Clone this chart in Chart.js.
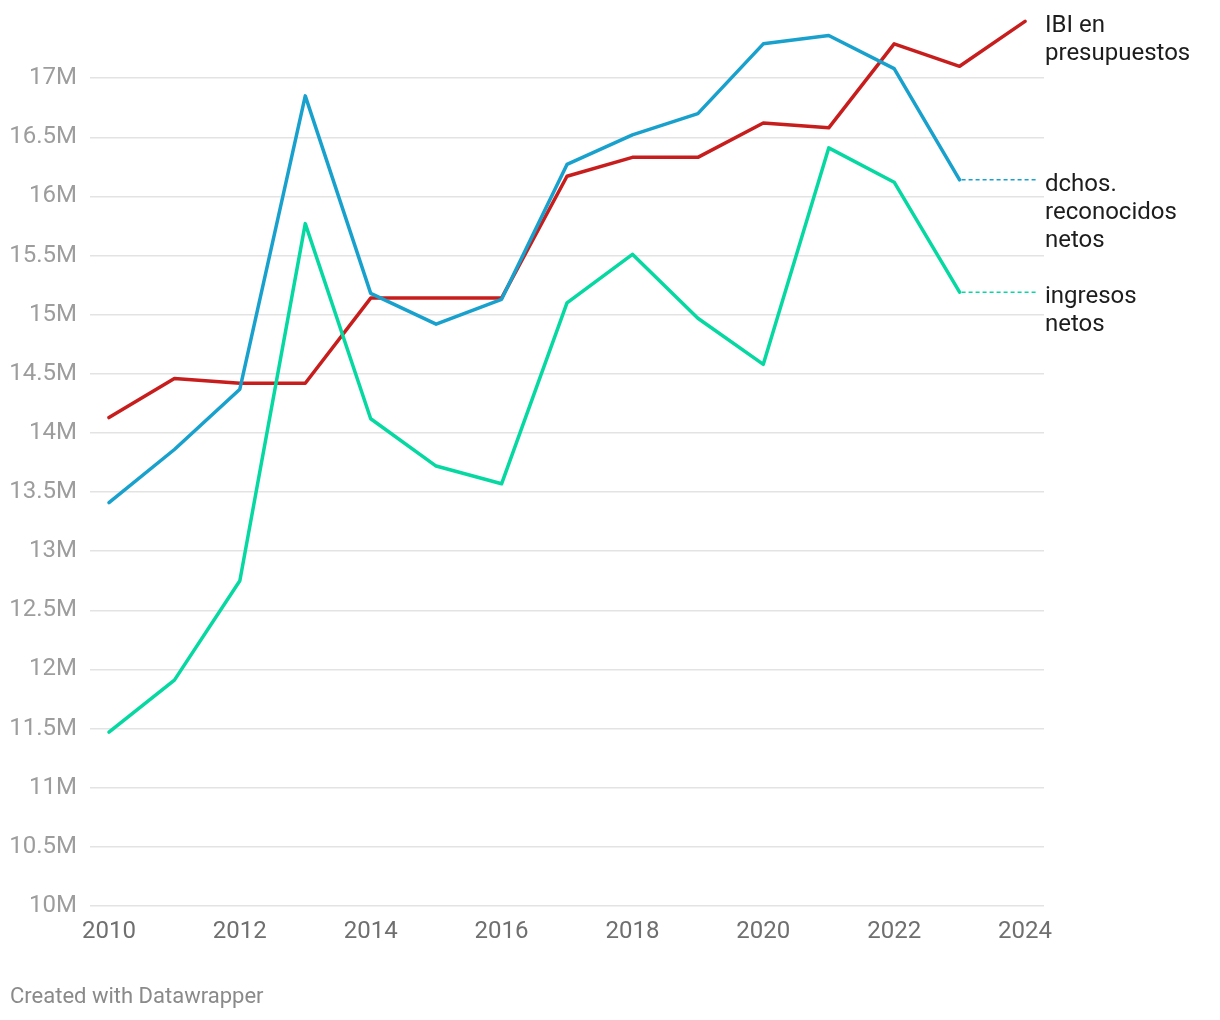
<!DOCTYPE html>
<html>
<head>
<meta charset="utf-8">
<script src="https://cdn.jsdelivr.net/npm/chart.js@4.4.1/dist/chart.umd.min.js"></script>
<style>
  html, body { margin: 0; padding: 0; background: #fff; }
  #wrap { width: 1220px; height: 1020px; position: relative; }
</style>
</head>
<body>
<div id="wrap"><canvas id="chart" width="1220" height="1020"></canvas></div>
<script>
// values in millions of euros
const years = [2010, 2011, 2012, 2013, 2014, 2015, 2016, 2017, 2018, 2019, 2020, 2021, 2022, 2023, 2024];
const ibiPresupuestos = [14.13, 14.46, 14.42, 14.42, 15.14, 15.14, 15.14, 16.17, 16.33, 16.33, 16.62, 16.58, 17.29, 17.10, 17.48];
const dchosReconocidos = [13.41, 13.86, 14.37, 16.85, 15.18, 14.92, 15.13, 16.27, 16.52, 16.70, 17.29, 17.36, 17.08, 16.14];
const ingresosNetos = [11.47, 11.91, 12.75, 15.77, 14.12, 13.72, 13.57, 15.10, 15.51, 14.97, 14.58, 16.41, 16.12, 15.19];
const xTicks = [2010, 2012, 2014, 2016, 2018, 2020, 2022, 2024];
const yTicks = [10, 10.5, 11, 11.5, 12, 12.5, 13, 13.5, 14, 14.5, 15, 15.5, 16, 16.5, 17];

const seriesLabels = [
    { name: 'ingresosNetos', lines: ['ingresos', 'netos'], color: '#06d8a1', data: ingresosNetos },
    { name: 'dchos', lines: ['dchos.', 'reconocidos', 'netos'], color: '#18a1cd', data: dchosReconocidos },
    { name: 'ibi', lines: ['IBI en', 'presupuestos'], color: '#c71e1d', data: ibiPresupuestos }
];

function toPoints(arr) {
    return arr.map((v, i) => ({ x: years[i], y: v }));
}

const FONT = 'Roboto, "Noto Sans", sans-serif';

// right hand labels with dotted leaders
const endLabels = {
    id: 'endLabels',
    afterDatasetsDraw(chart) {
        const ctx = chart.ctx;
        const xs = chart.scales.x, ys = chart.scales.y;
        const labelX = chart.chartArea.right + 1;
        ctx.save();
        seriesLabels.forEach(s => {
            const last = s.data.length - 1;
            const px = xs.getPixelForValue(years[last]);
            const py = ys.getPixelForValue(s.data[last]);
            if (px < xs.getPixelForValue(2024) - 1) {
                ctx.strokeStyle = s.color;
                ctx.lineWidth = 1.5;
                ctx.setLineDash([4, 3]);
                ctx.beginPath();
                ctx.moveTo(px + 2, py);
                ctx.lineTo(labelX - 8, py);
                ctx.stroke();
                ctx.setLineDash([]);
            }
            ctx.fillStyle = '#1d1d1d';
            ctx.font = '24px ' + FONT;
            ctx.textAlign = 'left';
            ctx.textBaseline = 'middle';
            s.lines.forEach((t, i) => {
                ctx.fillText(t, labelX, py + 5 + i * 28);
            });
        });
        ctx.fillStyle = '#8a8a8a';
        ctx.font = '22px ' + FONT;
        ctx.textBaseline = 'middle';
        ctx.fillText('Created with Datawrapper', 10, 997);
        ctx.restore();
    }
};

const ctx = document.getElementById('chart').getContext('2d');
new Chart(ctx, {
    type: 'line',
    data: {
        datasets: seriesLabels.map(s => ({
            label: s.lines.join(' '),
            data: toPoints(s.data),
            borderColor: s.color,
            backgroundColor: s.color,
            borderWidth: 3.5,
            pointRadius: 0,
            borderJoinStyle: 'round',
            borderCapStyle: 'round',
            tension: 0
        }))
    },
    options: {
        responsive: false,
        animation: false,
        layout: { padding: { top: 19, right: 176, bottom: 64, left: 0 } },
        plugins: {
            legend: { display: false },
            tooltip: { enabled: false }
        },
        scales: {
            x: {
                type: 'linear',
                min: 2009.71,
                max: 2024.29,
                afterBuildTicks: axis => { axis.ticks = xTicks.map(v => ({ value: v })); },
                afterFit: axis => {
                    axis.height = 50;
                    axis.paddingLeft = 0;
                    axis.paddingRight = 0;
                },
                grid: { display: false, drawTicks: false },
                border: { display: false },
                ticks: {
                    color: '#6f6f6f',
                    font: { family: FONT, size: 24 },
                    padding: 12,
                    maxRotation: 0,
                    callback: v => String(v)
                }
            },
            y: {
                min: 10,
                max: 17.5,
                afterBuildTicks: axis => { axis.ticks = yTicks.map(v => ({ value: v })); },
                afterFit: axis => {
                    axis.width = 90;
                    axis.paddingTop = 0;
                    axis.paddingBottom = 0;
                },
                grid: { color: '#e3e3e3', lineWidth: 1.5, drawTicks: false },
                border: { display: false },
                ticks: {
                    color: '#9d9d9d',
                    font: { family: FONT, size: 24 },
                    padding: 13,
                    callback: v => v + 'M'
                }
            }
        }
    },
    plugins: [endLabels]
});
</script>
</body>
</html>
